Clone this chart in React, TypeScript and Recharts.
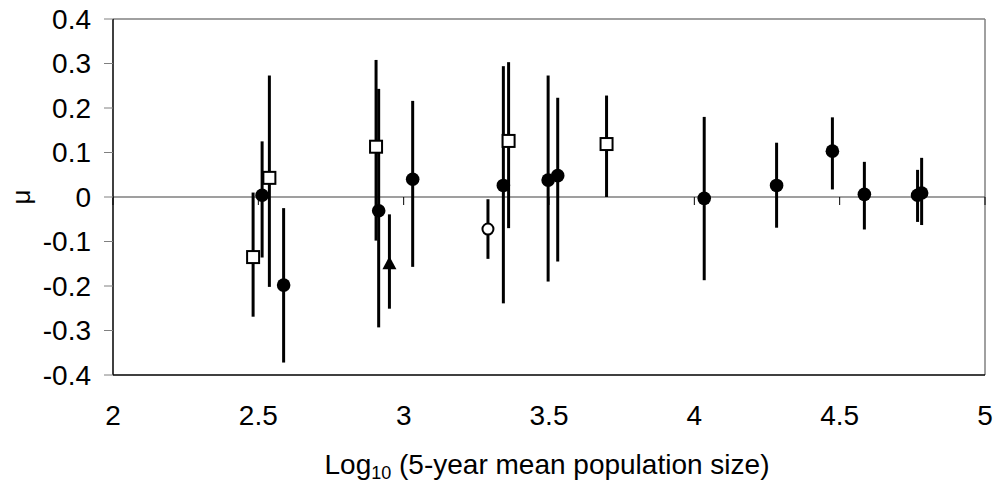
import React from 'react';
import { ScatterChart, Scatter, XAxis, YAxis, ErrorBar, ReferenceLine } from 'recharts';

const FONT = '"Liberation Sans", Arial, sans-serif';

const xTicks = [2, 2.5, 3, 3.5, 4, 4.5, 5];
const yTicks = [-0.4, -0.3, -0.2, -0.1, 0, 0.1, 0.2, 0.3, 0.4];

// filled circles
const circleX = [2.513, 2.587, 2.914, 3.031, 3.343, 3.497, 3.53, 4.034, 4.283, 4.475, 4.585, 4.768, 4.782];
const circleMu = [0.004, -0.198, -0.031, 0.04, 0.026, 0.038, 0.048, -0.003, 0.026, 0.103, 0.006, 0.004, 0.009];
const circleLo = [-0.136, -0.372, -0.293, -0.157, -0.239, -0.19, -0.145, -0.187, -0.069, 0.017, -0.073, -0.056, -0.063];
const circleHi = [0.125, -0.025, 0.243, 0.216, 0.294, 0.273, 0.223, 0.18, 0.122, 0.179, 0.079, 0.061, 0.088];

// open squares
const squareX = [2.482, 2.538, 2.905, 3.361, 3.698];
const squareMu = [-0.135, 0.043, 0.113, 0.126, 0.119];
const squareLo = [-0.269, -0.202, -0.098, -0.07, 0.0];
const squareHi = [0.01, 0.273, 0.308, 0.303, 0.228];

// open circle
const openX = [3.29];
const openMu = [-0.072];
const openLo = [-0.139];
const openHi = [-0.005];

// triangle
const triX = [2.951];
const triMu = [-0.149];
const triLo = [-0.251];
const triHi = [-0.039];

type Pt = { x: number; y: number; err: [number, number] };

const build = (xs: number[], mu: number[], lo: number[], hi: number[]): Pt[] =>
  xs.map((x, i) => ({ x, y: mu[i], err: [mu[i] - lo[i], hi[i] - mu[i]] }));

const circles = build(circleX, circleMu, circleLo, circleHi);
const squares = build(squareX, squareMu, squareLo, squareHi);
const opens = build(openX, openMu, openLo, openHi);
const tris = build(triX, triMu, triLo, triHi);
const allPts = [...circles, ...squares, ...opens, ...tris];

const Empty = () => <g />;
const FilledDot = (p: any) => <circle cx={p.cx} cy={p.cy} r={6.8} fill="#000" />;
const OpenDot = (p: any) => (
  <circle cx={p.cx} cy={p.cy} r={5.5} fill="#fff" stroke="#000" strokeWidth={2} />
);
const OpenSquare = (p: any) => (
  <rect x={p.cx - 6} y={p.cy - 6} width={12} height={12} fill="#fff" stroke="#000" strokeWidth={2} />
);
const Tri = (p: any) => (
  <polygon
    points={`${p.cx},${p.cy - 7} ${p.cx - 7},${p.cy + 6} ${p.cx + 7},${p.cy + 6}`}
    fill="#000"
  />
);

const XTitle = (props: any) => {
  const vb = props.viewBox;
  return (
    <text
      x={vb.x + vb.width / 2 - 2}
      y={vb.y + 99}
      textAnchor="middle"
      fontFamily={FONT}
      fontSize={28}
      fill="#000"
    >
      Log
      <tspan fontSize={18} dy={5}>10</tspan>
      <tspan dy={-5}> (5-year mean population size)</tspan>
    </text>
  );
};

const YTitle = (props: any) => {
  const vb = props.viewBox;
  const cx = 21;
  const cy = vb.y + vb.height / 2;
  return (
    <text
      x={cx}
      y={cy}
      textAnchor="middle"
      dominantBaseline="central"
      transform={`rotate(-90 ${cx} ${cy})`}
      fontFamily={FONT}
      fontSize={26}
      fill="#000"
    >
      μ
    </text>
  );
};

const tickStyle = { fontSize: 28, fill: '#000', fontFamily: FONT };

export default function App() {
  return (
    <div style={{ position: 'absolute', left: 0, top: 0, background: '#fff' }}>
      <ScatterChart width={993} height={482} margin={{ top: 19, right: 8, bottom: 0, left: 0 }}>
        <XAxis
          type="number"
          dataKey="x"
          domain={[2, 5]}
          ticks={xTicks}
          allowDataOverflow
          axisLine={{ stroke: '#000', strokeWidth: 1.5 }}
          tickLine={false}
          tickSize={0}
          tickMargin={30}
          tick={tickStyle}
          height={107}
          label={<XTitle />}
        />
        <YAxis
          type="number"
          dataKey="y"
          domain={[-0.4, 0.4]}
          ticks={yTicks}
          allowDataOverflow
          width={113}
          axisLine={{ stroke: '#000', strokeWidth: 1.5 }}
          tickLine={{ stroke: '#808080' }}
          tickSize={9}
          tickMargin={13}
          tick={tickStyle}
          label={<YTitle />}
        />
        <ReferenceLine y={0.4} stroke="#808080" strokeWidth={1.5} />
        <ReferenceLine x={5} stroke="#808080" strokeWidth={1.5} />
        <ReferenceLine y={0} stroke="#404040" strokeWidth={1.2} />
        {xTicks.map((t) => (
          <ReferenceLine
            key={t}
            segment={[{ x: t, y: 0 }, { x: t, y: -0.018 }]}
            stroke="#000"
            strokeWidth={1}
          />
        ))}
        <Scatter data={allPts} shape={<Empty />} isAnimationActive={false}>
          <ErrorBar dataKey="err" direction="y" width={0} stroke="#000" strokeWidth={3} />
        </Scatter>
        <Scatter data={squares} shape={OpenSquare} isAnimationActive={false} />
        <Scatter data={opens} shape={OpenDot} isAnimationActive={false} />
        <Scatter data={tris} shape={Tri} isAnimationActive={false} />
        <Scatter data={circles} shape={FilledDot} isAnimationActive={false} />
      </ScatterChart>
    </div>
  );
}
